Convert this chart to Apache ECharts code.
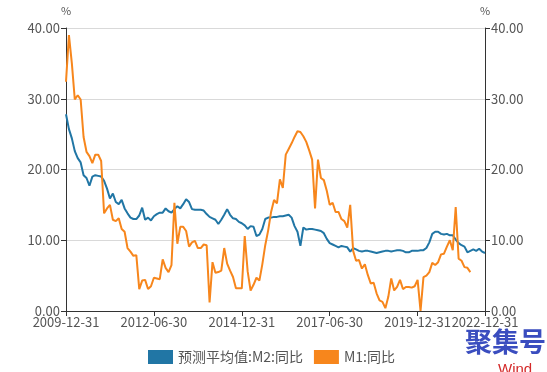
<!DOCTYPE html>
<html>
<head>
<meta charset="utf-8">
<script src="https://cdn.jsdelivr.net/npm/echarts@6/dist/echarts.min.js"></script>
<style>
html,body{margin:0;padding:0;background:#fff;}
#chart{width:547px;height:372px;}
</style>
</head>
<body>
<div id="chart"></div>
<script>
// Category dates: month ends from 2009-12 to 2021-10, then final label 2022-12-31
function monthEnd(y, m) {
  var d = new Date(Date.UTC(y, m, 0)).getUTCDate();
  return y + '-' + (m < 10 ? '0' + m : '' + m) + '-' + d;
}
var categories = [];
(function () {
  var y = 2009, m = 12;
  for (var i = 0; i < 143; i++) {
    categories.push(monthEnd(y, m));
    m++; if (m > 12) { m = 1; y++; }
  }
  categories.push('2022-12-31');
})();

var yTicks = [0, 10, 20, 30, 40];

var m2Forecast = [
  27.8, 25.7, 24.4, 22.6, 21.6, 21.0, 19.2, 18.8, 17.7, 19.0,
  19.2, 19.1, 19.0, 18.4, 17.3, 15.9, 16.6, 15.4, 15.1, 15.7,
  14.5, 13.8, 13.2, 13.0, 13.0, 13.5, 14.6, 12.9, 13.2, 12.8,
  13.4, 13.7, 13.9, 13.9, 14.5, 14.1, 13.9, 14.4, 14.8, 14.5,
  15.1, 15.8, 15.4, 14.4, 14.3, 14.3, 14.3, 14.2, 13.7, 13.3,
  13.1, 12.9, 12.3, 12.9, 13.6, 14.4, 13.6, 13.1, 13.0, 12.6,
  12.4, 12.1, 11.6, 12.0, 11.9, 10.6, 10.8, 11.6, 13.0, 13.2,
  13.2, 13.3, 13.3, 13.4, 13.4, 13.5, 13.6, 13.2, 12.0, 11.2,
  9.2, 11.8, 11.5, 11.6, 11.6, 11.5, 11.4, 11.3, 11.0, 10.2,
  9.6, 9.4, 9.2, 9.0, 9.2, 9.1, 9.0, 8.4, 8.9, 8.7,
  8.5, 8.4, 8.5, 8.5, 8.4, 8.3, 8.2, 8.3, 8.4, 8.5,
  8.5, 8.4, 8.5, 8.6, 8.6, 8.5, 8.3, 8.3, 8.5, 8.5,
  8.5, 8.6, 8.6, 8.9, 9.7, 10.9, 11.2, 11.2, 10.9, 10.8,
  10.9, 10.7, 10.7, 10.1, 9.6, 9.3, 9.1, 8.3, 8.5, 8.7,
  8.5, 8.8, 8.4, 8.2
];

var m1Yoy = [
  32.4, 39.0, 35.0, 29.9, 30.5, 29.9, 24.6, 22.5, 21.9, 20.9,
  22.1, 22.1, 21.2, 13.8, 14.5, 15.0, 12.9, 12.7, 13.1, 11.6,
  11.2, 8.9, 8.4, 7.8, 7.9, 3.1, 4.3, 4.4, 3.1, 3.5,
  4.7, 4.6, 4.5, 7.3, 6.1, 5.5, 6.5, 15.3, 9.5, 11.9,
  11.9, 11.3, 9.1, 9.7, 9.9, 8.9, 8.9, 9.4, 9.3, 1.2,
  6.9, 5.4, 5.5, 5.7, 8.9, 6.7, 5.7, 4.8, 3.2, 3.2,
  3.2, 10.6, 5.6, 2.9, 3.7, 4.7, 4.3, 6.6, 9.3, 11.4,
  14.0, 15.7, 15.2, 18.6, 17.4, 22.1, 22.9, 23.7, 24.6, 25.4,
  25.3, 24.7, 23.9, 22.7, 21.4, 14.5, 21.4, 18.8, 18.5, 17.0,
  15.0, 15.3, 14.0, 14.0, 13.0, 12.7, 11.8, 15.0, 8.5, 7.1,
  7.2, 6.0, 6.6, 5.1, 3.9, 4.0, 2.5, 1.5, 1.3, 0.4,
  2.0, 4.6, 2.9, 3.4, 4.4, 3.1, 3.4, 3.4, 3.3, 3.5,
  4.4, 0.0, 4.8, 5.0, 5.5, 6.8, 6.5, 6.9, 8.0, 8.1,
  9.1, 10.0, 8.6, 14.7, 7.4, 7.1, 6.2, 6.1, 5.5
];

var seriesNames = ['预测平均值:M2:同比', 'M1:同比'];
var colors = ['#2176a5', '#f7861c'];

var lastIdx = categories.length - 1;
function showIdx(i) { return i % 30 === 0 || i === lastIdx; }

var font = '"Noto Sans CJK SC", "Noto Sans", sans-serif';
var txt = '#555';

function yAxisCfg(pos, split) {
  return {
    type: 'value',
    position: pos,
    min: yTicks[0], max: yTicks[yTicks.length - 1], interval: 10,
    name: '%',
    nameLocation: 'end',
    nameGap: 12,
    nameTextStyle: { color: txt, fontSize: 11, fontFamily: font, align: 'center' },
    axisLine: { show: true, lineStyle: { color: '#333', width: 1 } },
    axisTick: { show: true, length: 5, lineStyle: { color: '#333' } },
    axisLabel: {
      color: txt, fontSize: 13, fontFamily: font, margin: 6,
      formatter: function (v) { return v.toFixed(2); }
    },
    splitLine: { show: split, lineStyle: { color: '#d9d9d9', width: 1 } }
  };
}

var chart = echarts.init(document.getElementById('chart'), null, { renderer: 'canvas' });
chart.setOption({
  animation: false,
  backgroundColor: '#fff',
  color: colors,
  grid: { left: 66, right: 62, top: 28, bottom: 61, containLabel: false },
  legend: {
    left: 143, top: 345,
    itemWidth: 25, itemHeight: 14, itemGap: 11,
    icon: 'rect',
    textStyle: { color: txt, fontSize: 14, fontFamily: font },
    data: seriesNames
  },
  xAxis: {
    type: 'category',
    boundaryGap: false,
    data: categories,
    axisLine: { lineStyle: { color: '#333', width: 1 } },
    axisTick: { show: true, length: 5, interval: showIdx, lineStyle: { color: '#333' } },
    axisLabel: { interval: showIdx, color: txt, fontSize: 13, fontFamily: font, margin: 5, hideOverlap: false },
    splitLine: { show: false }
  },
  yAxis: [yAxisCfg('left', true), yAxisCfg('right', false)],
  series: [
    {
      name: seriesNames[0], type: 'line', yAxisIndex: 0,
      data: m2Forecast, showSymbol: false, symbol: 'none',
      lineStyle: { width: 2, color: colors[0] }
    },
    {
      name: seriesNames[1], type: 'line', yAxisIndex: 1,
      data: m1Yoy, showSymbol: false, symbol: 'none',
      lineStyle: { width: 2, color: colors[1] }
    }
  ],
  graphic: [
    {
      type: 'text', left: 465, top: 328,
      style: { text: '聚集号', fill: '#3a4dbf', font: 'bold 27px "Noto Sans CJK SC", sans-serif' }
    },
    {
      type: 'text', left: 498, top: 362,
      style: { text: 'Wind', fill: '#d42a2a', font: '15px "Liberation Sans", sans-serif' }
    }
  ]
});
</script>
</body>
</html>
